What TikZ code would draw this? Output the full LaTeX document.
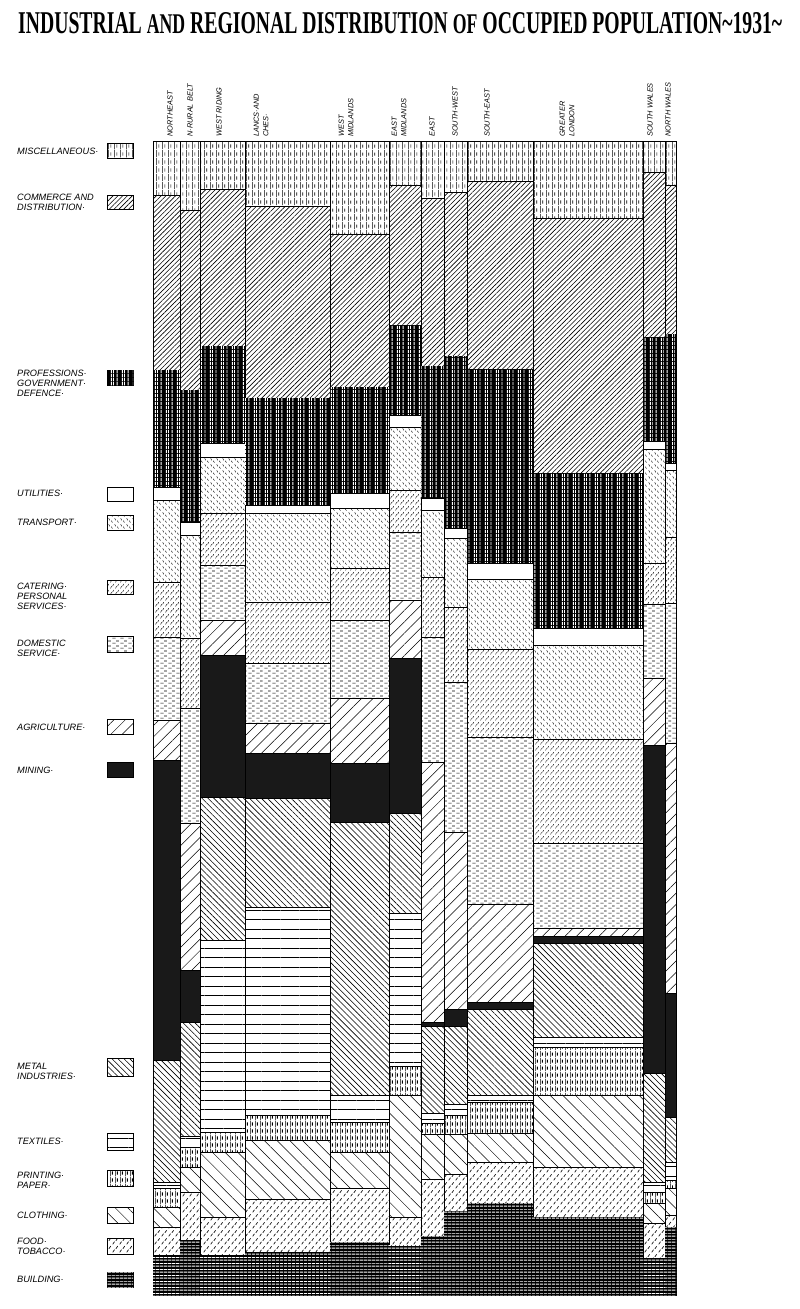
\documentclass[tikz,border=0pt]{standalone}
\usepackage{fontspec}
\setsansfont{Liberation Sans}
\newfontfamily\titlefont{Liberation Serif}
\usepackage{graphicx}
\usetikzlibrary{patterns.meta}

% fill patterns of the chart
\tikzdeclarepattern{name=MiscDash,type=uncolored,
  bounding box={(0pt,0pt) and (6pt,8pt)},tile size={(6pt,8pt)},
  code={\draw[line width=.6pt](.5pt,0pt)--(.5pt,8pt);
        \draw[line width=.7pt](3.2pt,1.5pt)--(3.2pt,5pt);}}
\tikzdeclarepattern{name=PrintDash,type=uncolored,
  bounding box={(0pt,0pt) and (5pt,7pt)},tile size={(5pt,7pt)},
  code={\draw[line width=.5pt](.4pt,0pt)--(.4pt,7pt);
        \draw[line width=1pt](2.8pt,1.5pt)--(2.8pt,5pt);}}
\tikzdeclarepattern{name=ProfStripe,type=uncolored,
  bounding box={(0pt,0pt) and (11pt,4pt)},tile size={(11pt,4pt)},
  code={\draw[line width=.9pt](1.5pt,0pt)--(1.5pt,4pt);
        \draw[line width=.7pt](3.8pt,0pt)--(3.8pt,4pt);
        \draw[line width=1pt](7.5pt,0pt)--(7.5pt,4pt);}}
\tikzdeclarepattern{name=BuildStripe,type=uncolored,
  bounding box={(0pt,0pt) and (4pt,6pt)},tile size={(4pt,6pt)},
  code={\draw[line width=.9pt](0pt,1pt)--(4pt,1pt);
        \draw[line width=.6pt](0pt,4pt)--(4pt,4pt);}}
\tikzdeclarepattern{name=BackDash,type=uncolored,
  bounding box={(0pt,0pt) and (6pt,6pt)},tile size={(6pt,6pt)},
  code={\draw[line width=.5pt](.8pt,5.4pt)--(2pt,3pt);
        \draw[line width=.5pt](3.8pt,2.6pt)--(5pt,.4pt);}}
\tikzdeclarepattern{name=SlashDash,type=uncolored,
  bounding box={(0pt,0pt) and (5pt,6pt)},tile size={(5pt,6pt)},
  code={\draw[line width=.5pt](.6pt,.6pt)--(1.9pt,3.1pt);
        \draw[line width=.5pt](3.1pt,3.2pt)--(4.4pt,5.6pt);}}
\tikzdeclarepattern{name=FlatDash,type=uncolored,
  bounding box={(0pt,0pt) and (8pt,5pt)},tile size={(8pt,5pt)},
  code={\draw[line width=.8pt](.5pt,1pt)--(4pt,1pt);
        \draw[line width=.8pt](4.5pt,3.5pt)--(7.5pt,3.5pt);}}
\tikzdeclarepattern{name=FoodDash,type=uncolored,
  bounding box={(0pt,0pt) and (7pt,8pt)},tile size={(7pt,8pt)},
  code={\draw[line width=.7pt](.8pt,.8pt)--(2.8pt,3.6pt);
        \draw[line width=.7pt](4.3pt,4.6pt)--(6.3pt,7.4pt);}}

\tikzstyle{Seg}=[draw=black,line width=.7pt]
\tikzstyle{Cat1}=[Seg,pattern=MiscDash] % miscellaneous
\tikzstyle{Cat2}=[Seg,pattern={Lines[angle=45,distance=3.4pt,line width=.6pt]}] % commerce
\tikzstyle{Cat3}=[Seg,fill=black,postaction={pattern=ProfStripe,pattern color=white}] % professions
\tikzstyle{Cat4}=[Seg,fill=white] % utilities
\tikzstyle{Cat5}=[Seg,pattern=BackDash] % transport
\tikzstyle{Cat6}=[Seg,pattern=SlashDash] % catering
\tikzstyle{Cat7}=[Seg,pattern=FlatDash] % domestic
\tikzstyle{Cat8}=[Seg,pattern={Lines[angle=45,distance=8pt,line width=.5pt]}] % agriculture
\tikzstyle{Cat9}=[Seg,fill=black!90] % mining
\tikzstyle{Cat10}=[Seg,pattern={Lines[angle=-45,distance=4.2pt,line width=.6pt]}] % metal
\tikzstyle{Cat11}=[Seg,pattern={Lines[angle=0,distance=9.5pt,line width=.5pt]}] % textiles
\tikzstyle{Cat12}=[Seg,pattern=PrintDash] % printing
\tikzstyle{Cat13}=[Seg,pattern={Lines[angle=-45,distance=9pt,line width=.5pt]}] % clothing
\tikzstyle{Cat14}=[Seg,pattern=FoodDash] % food
\tikzstyle{Cat15}=[Seg,fill=black,postaction={pattern=BuildStripe,pattern color=white}] % building
\tikzstyle{ColText}=[rotate=90,anchor=west,align=left,inner sep=0pt,
  font=\sffamily\itshape\fontsize{7.4}{9.5}\selectfont]
\tikzstyle{KeyText}=[anchor=west,align=left,inner sep=0pt,
  font=\sffamily\itshape\fontsize{9.2}{10}\selectfont]

% one region: x range, then the lower edge of each band
\newcommand{\Column}[3]{%
  \foreach \yb [count=\k,remember=\yb as \ya (initially 141)] in {#3}
    \path[Cat\k] (#1,\ya) rectangle (#2,\yb);}

\begin{document}
\begin{tikzpicture}[x=1pt,y=-1pt]
  \useasboundingbox[fill=white] (0,0) rectangle (800,1309);
  \node[inner sep=0pt,anchor=base west,font=\titlefont\bfseries](title)at(18,33)
    {\resizebox{764pt}{21pt}{INDUSTRIAL {\small AND} REGIONAL DISTRIBUTION {\small OF} OCCUPIED POPULATION\textasciitilde1931\textasciitilde}};
  % regions
  \Column{153}{180}{195,370,487,500,582,637,720,760,1060,1182,1188,1207,1227,1255,1295}
  \Column{180}{200}{210,390,522,535,638,708,823,970,1022,1136,1147,1167,1192,1240,1295}
  \Column{200}{245}{189,346,443,457,513,565,620,655,797,940,1132,1152,1217,1255,1295}
  \Column{245}{330}{206,398,505,513,602,663,723,753,798,907,1115,1140,1199,1252,1295}
  \Column{330}{389}{234,387,493,508,568,620,698,763,822,1095,1122,1152,1188,1242,1295}
  \Column{389}{421}{185,325,415,427,490,532,600,658,813,913,1066,1095,1217,1245,1295}
  \Column{421}{444}{198,366,498,510,577,637,762,1022,1026,1113,1123,1134,1179,1236,1295}
  \Column{444}{467}{192,356,528,538,607,682,832,1009,1026,1104,1115,1134,1174,1211,1295}
  \Column{467}{533}{181,369,563,579,649,737,904,1002,1009,1095,1102,1133,1162,1203,1295}
  \Column{533}{643}{218,473,628,645,739,843,928,936,943,1037,1047,1095,1167,1217,1295}
  \Column{643}{665}{172,337,441,449,563,604,678,745,1073,1182,1192,1203,1223,1258,1295}
  \Column{665}{676}{185,334,463,470,537,603,743,993,1117,1162,1180,1188,1215,1227,1295}
  % region names
  \node[ColText](ne)at(170,137){NORTHEAST};
  \node[ColText](nrb)at(190,137){N·RURAL BELT};
  \node[ColText](wr)at(219,137){WEST RIDING};
  \node[ColText](lc)at(261,137){LANCS·AND\\CHES·};
  \node[ColText](wm)at(346,137){WEST\\MIDLANDS};
  \node[ColText](em)at(399,137){EAST\\MIDLANDS};
  \node[ColText](ea)at(432,137){EAST};
  \node[ColText](sw)at(455,137){SOUTH-WEST};
  \node[ColText](se)at(487,137){SOUTH-EAST};
  \node[ColText](gl)at(567,137){GREATER\\LONDON};
  \node[ColText](swa)at(650,137){SOUTH WALES};
  \node[ColText](nwa)at(668,137){NORTH WALES};
  % key
  \foreach \k/\ya/\yb in {1/143/158,2/195/209,3/370/385,4/487/501,5/515/530,
      6/580/594,7/636/652,8/719/734,9/762/777,10/1058/1076,11/1133/1150,
      12/1170/1186,13/1207/1223,14/1238/1254,15/1272/1287}
    \path[Cat\k] (107,\ya) rectangle (133,\yb);
  \foreach \ty/\lab [count=\k] in {151/{MISCELLANEOUS·},202/{COMMERCE AND\\DISTRIBUTION·},
      383/{PROFESSIONS·\\GOVERNMENT·\\DEFENCE·},493/{UTILITIES·},522/{TRANSPORT·},
      596/{CATERING·\\PERSONAL\\SERVICES·},648/{DOMESTIC\\SERVICE·},727/{AGRICULTURE·},
      770/{MINING·},1071/{METAL\\INDUSTRIES·},1141/{TEXTILES·},1180/{PRINTING·\\PAPER·},
      1215/{CLOTHING·},1246/{FOOD·\\TOBACCO·},1279/{BUILDING·}}
    \node[KeyText](key\k)at(17,\ty){\lab};
\end{tikzpicture}
\end{document}
